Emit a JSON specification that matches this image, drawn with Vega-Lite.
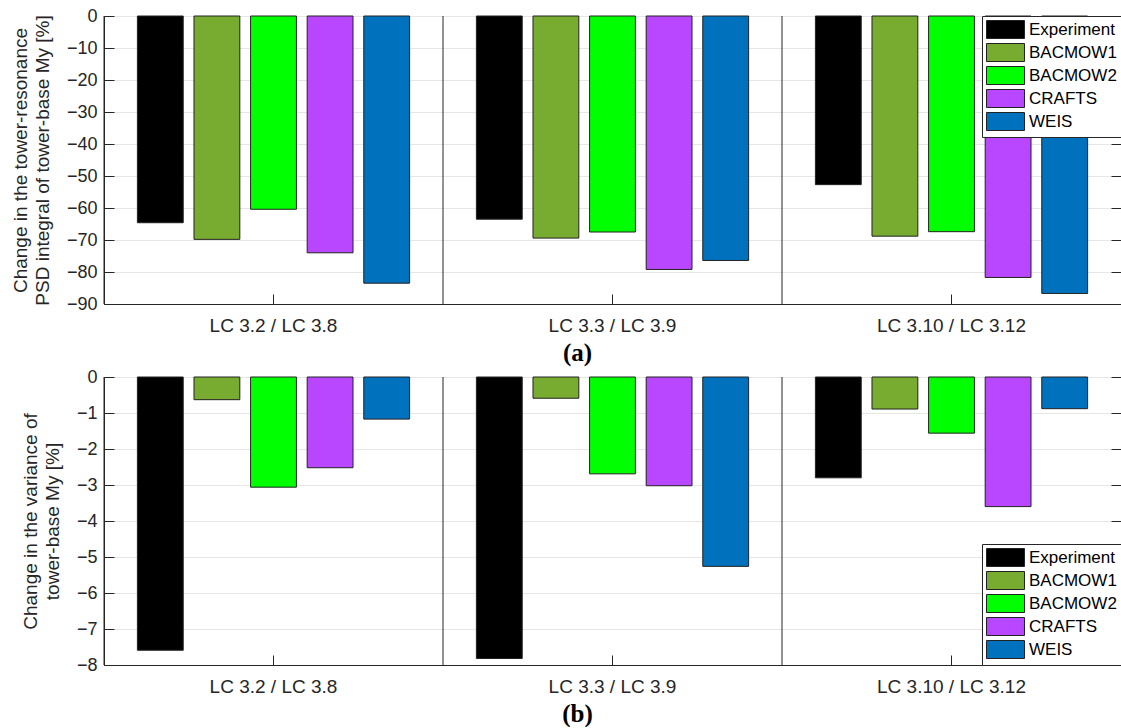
{
  "$schema": "https://vega.github.io/schema/vega-lite/v6.json",
  "autosize": {"type": "pad"},
  "padding": {"left": 10, "top": 6, "right": 0, "bottom": 0},
  "background": "white",
  "config": {
    "font": "Liberation Sans",
    "view": {"stroke": "#262626", "strokeWidth": 1},
    "axis": {"labelFont": "Liberation Sans", "labelColor": "#262626", "titleFont": "Liberation Sans", "titleColor": "#262626", "titleFontWeight": "normal", "domainColor": "#262626", "tickColor": "#262626", "gridColor": "#e6e6e6"},
    "legend": {"labelFont": "Liberation Sans", "labelColor": "#000000", "labelFontSize": 17}
  },
  "datasets": {
    "a": [
      {"case": "LC 3.2 / LC 3.8", "model": "Experiment", "value": -64.6},
      {"case": "LC 3.2 / LC 3.8", "model": "BACMOW1", "value": -69.8},
      {"case": "LC 3.2 / LC 3.8", "model": "BACMOW2", "value": -60.4},
      {"case": "LC 3.2 / LC 3.8", "model": "CRAFTS", "value": -74.0},
      {"case": "LC 3.2 / LC 3.8", "model": "WEIS", "value": -83.5},
      {"case": "LC 3.3 / LC 3.9", "model": "Experiment", "value": -63.5},
      {"case": "LC 3.3 / LC 3.9", "model": "BACMOW1", "value": -69.4},
      {"case": "LC 3.3 / LC 3.9", "model": "BACMOW2", "value": -67.5},
      {"case": "LC 3.3 / LC 3.9", "model": "CRAFTS", "value": -79.2},
      {"case": "LC 3.3 / LC 3.9", "model": "WEIS", "value": -76.4},
      {"case": "LC 3.10 / LC 3.12", "model": "Experiment", "value": -52.7},
      {"case": "LC 3.10 / LC 3.12", "model": "BACMOW1", "value": -68.8},
      {"case": "LC 3.10 / LC 3.12", "model": "BACMOW2", "value": -67.4},
      {"case": "LC 3.10 / LC 3.12", "model": "CRAFTS", "value": -81.7},
      {"case": "LC 3.10 / LC 3.12", "model": "WEIS", "value": -86.7}
    ],
    "b": [
      {"case": "LC 3.2 / LC 3.8", "model": "Experiment", "value": -7.59},
      {"case": "LC 3.2 / LC 3.8", "model": "BACMOW1", "value": -0.63},
      {"case": "LC 3.2 / LC 3.8", "model": "BACMOW2", "value": -3.06},
      {"case": "LC 3.2 / LC 3.8", "model": "CRAFTS", "value": -2.52},
      {"case": "LC 3.2 / LC 3.8", "model": "WEIS", "value": -1.17},
      {"case": "LC 3.3 / LC 3.9", "model": "Experiment", "value": -7.82},
      {"case": "LC 3.3 / LC 3.9", "model": "BACMOW1", "value": -0.59},
      {"case": "LC 3.3 / LC 3.9", "model": "BACMOW2", "value": -2.69},
      {"case": "LC 3.3 / LC 3.9", "model": "CRAFTS", "value": -3.02},
      {"case": "LC 3.3 / LC 3.9", "model": "WEIS", "value": -5.26},
      {"case": "LC 3.10 / LC 3.12", "model": "Experiment", "value": -2.80},
      {"case": "LC 3.10 / LC 3.12", "model": "BACMOW1", "value": -0.89},
      {"case": "LC 3.10 / LC 3.12", "model": "BACMOW2", "value": -1.56},
      {"case": "LC 3.10 / LC 3.12", "model": "CRAFTS", "value": -3.60},
      {"case": "LC 3.10 / LC 3.12", "model": "WEIS", "value": -0.88}
    ],
    "groups": [
      {"case": "LC 3.2 / LC 3.8"},
      {"case": "LC 3.3 / LC 3.9"},
      {"case": "LC 3.10 / LC 3.12"}
    ]
  },
  "resolve": {"scale": {"color": "independent"}, "legend": {"color": "independent"}},
  "spacing": 1,
  "vconcat": [
    {
      "width": 1017,
      "height": 288,
      "resolve": {"axis": {"x": "independent", "y": "independent"}},
      "layer": [
        {
          "data": {"name": "a"},
          "mark": {"type": "bar", "stroke": "#222222", "strokeWidth": 1},
          "encoding": {
            "x": {"field": "case", "type": "nominal", "sort": ["LC 3.2 / LC 3.8", "LC 3.3 / LC 3.9", "LC 3.10 / LC 3.12"],
              "scale": {"paddingInner": 0, "paddingOuter": 0},
              "axis": {"orient": "bottom", "title": "(a)", "titleFont": "Liberation Serif", "titleFontWeight": "bold", "titleFontSize": 25, "titleColor": "#000000", "titleX": 473, "titlePadding": 5, "labelAngle": 0, "labelFontSize": 19, "tickSize": -10, "labelPadding": 22, "bandPosition": 0.5, "grid": false, "domain": true}},
            "xOffset": {"field": "model", "type": "nominal", "sort": ["Experiment", "BACMOW1", "BACMOW2", "CRAFTS", "WEIS"], "scale": {"paddingInner": 0.19, "paddingOuter": 0.59}},
            "y": {"field": "value", "type": "quantitative", "stack": null,
              "scale": {"domain": [-90, 0], "nice": false, "zero": false},
              "axis": {"values": [-90, -80, -70, -60, -50, -40, -30, -20, -10, 0], "title": ["Change in the tower-resonance", "PSD integral of tower-base My [%]"], "titleFontSize": 19, "titleLineHeight": 22, "labelFontSize": 18, "tickSize": -10, "labelPadding": 17, "grid": true, "domain": true, "titlePadding": 14}},
            "color": {"field": "model", "type": "nominal",
              "scale": {"domain": ["Experiment", "BACMOW1", "BACMOW2", "CRAFTS", "WEIS"], "range": ["#000000", "#77AC30", "#00FF00", "#B847FF", "#0072BD"]},
              "legend": {"orient": "top-right", "offset": 0, "title": null, "symbolType": "M-2.111,-1H2.111V1H-2.111Z", "symbolSize": 324, "symbolOffset": 10, "symbolStrokeColor": "#222222", "symbolStrokeWidth": 1, "symbolOpacity": 1, "strokeColor": "#262626", "fillColor": "#ffffff", "padding": 4, "rowPadding": 0, "labelOffset": 14}}
          }
        },
        {
          "data": {"name": "groups"},
          "mark": {"type": "rule", "color": "#262626", "strokeWidth": 1},
          "encoding": {
            "x": {"field": "case", "type": "nominal", "sort": ["LC 3.2 / LC 3.8", "LC 3.3 / LC 3.9", "LC 3.10 / LC 3.12"], "bandPosition": 0,
              "axis": {"orient": "top", "labels": false, "domain": false, "title": null, "tickSize": -10, "bandPosition": 0.5, "grid": false}},
            "y": {"datum": 0, "type": "quantitative", "axis": {"orient": "right", "labels": false, "domain": false, "grid": false, "title": null, "tickSize": -10, "values": [-90, -80, -70, -60, -50, -40, -30, -20, -10, 0]}},
            "y2": {"datum": -90}
          }
        }
      ]
    },
    {
      "width": 1017,
      "height": 288,
      "resolve": {"axis": {"x": "independent", "y": "independent"}},
      "layer": [
        {
          "data": {"name": "b"},
          "mark": {"type": "bar", "stroke": "#222222", "strokeWidth": 1},
          "encoding": {
            "x": {"field": "case", "type": "nominal", "sort": ["LC 3.2 / LC 3.8", "LC 3.3 / LC 3.9", "LC 3.10 / LC 3.12"],
              "scale": {"paddingInner": 0, "paddingOuter": 0},
              "axis": {"orient": "bottom", "title": "(b)", "titleFont": "Liberation Serif", "titleFontWeight": "bold", "titleFontSize": 25, "titleColor": "#000000", "titleX": 473, "titlePadding": 5, "labelAngle": 0, "labelFontSize": 19, "tickSize": -10, "labelPadding": 22, "bandPosition": 0.5, "grid": false, "domain": true}},
            "xOffset": {"field": "model", "type": "nominal", "sort": ["Experiment", "BACMOW1", "BACMOW2", "CRAFTS", "WEIS"], "scale": {"paddingInner": 0.19, "paddingOuter": 0.59}},
            "y": {"field": "value", "type": "quantitative", "stack": null,
              "scale": {"domain": [-8, 0], "nice": false, "zero": false},
              "axis": {"values": [-8, -7, -6, -5, -4, -3, -2, -1, 0], "title": ["Change in the variance of", "tower-base My [%]"], "titleFontSize": 19, "titleLineHeight": 22, "labelFontSize": 18, "tickSize": -10, "labelPadding": 17, "grid": true, "domain": true, "titlePadding": 14}},
            "color": {"field": "model", "type": "nominal",
              "scale": {"domain": ["Experiment", "BACMOW1", "BACMOW2", "CRAFTS", "WEIS"], "range": ["#000000", "#77AC30", "#00FF00", "#B847FF", "#0072BD"]},
              "legend": {"orient": "bottom-right", "offset": 0, "title": null, "symbolType": "M-2.111,-1H2.111V1H-2.111Z", "symbolSize": 324, "symbolOffset": 10, "symbolStrokeColor": "#222222", "symbolStrokeWidth": 1, "symbolOpacity": 1, "strokeColor": "#262626", "fillColor": "#ffffff", "padding": 4, "rowPadding": 0, "labelOffset": 14}}
          }
        },
        {
          "data": {"name": "groups"},
          "mark": {"type": "rule", "color": "#262626", "strokeWidth": 1},
          "encoding": {
            "x": {"field": "case", "type": "nominal", "sort": ["LC 3.2 / LC 3.8", "LC 3.3 / LC 3.9", "LC 3.10 / LC 3.12"], "bandPosition": 0,
              "axis": {"orient": "top", "labels": false, "domain": false, "title": null, "tickSize": -10, "bandPosition": 0.5, "grid": false}},
            "y": {"datum": 0, "type": "quantitative", "axis": {"orient": "right", "labels": false, "domain": false, "grid": false, "title": null, "tickSize": -10, "values": [-8, -7, -6, -5, -4, -3, -2, -1, 0]}},
            "y2": {"datum": -8}
          }
        }
      ]
    }
  ]
}
